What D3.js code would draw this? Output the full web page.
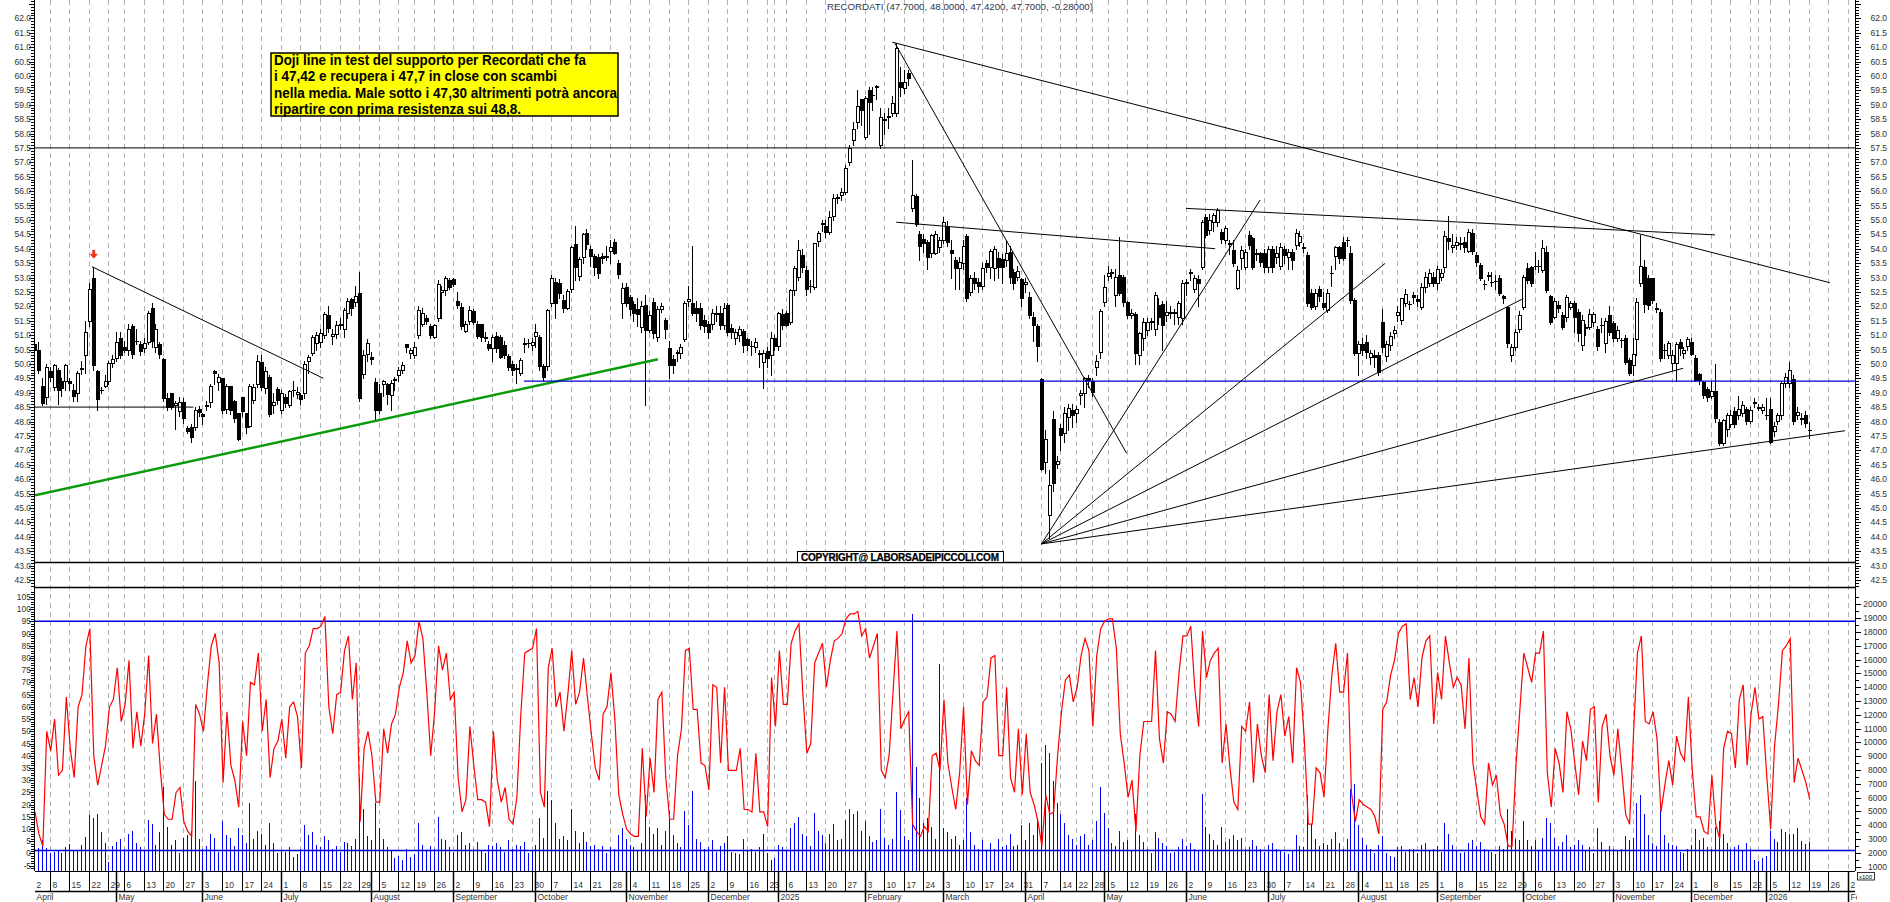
<!DOCTYPE html>
<html><head><meta charset="utf-8">
<script src="https://cdn.jsdelivr.net/npm/d3@7"></script>
<style>
html,body{margin:0;padding:0;background:#fff;}
svg{display:block;}
text{font-family:"Liberation Sans",Arial,sans-serif;}
</style></head><body>
<svg id="c" width="1890" height="902"></svg>
<script>
// ---------------- DATA ----------------
const title = "RECORDATI (47.7000, 48.0000, 47.4200, 47.7000, -0.28000)";
const noteLines = [
  "Doji line in test del supporto per Recordati che fa",
  "i 47,42 e recupera i 47,7 in close con scambi",
  "nella media. Male sotto i 47,30 altrimenti potrà ancora",
  "ripartire con prima resistenza sui 48,8."
];
const copyright = "COPYRIGHT@ LABORSADEIPICCOLI.COM";
const startDate = "2024-04-02";
const holidays = ["2024-05-01","2024-08-15","2024-12-24","2024-12-25","2024-12-26","2024-12-31","2025-01-01",
  "2025-04-18","2025-04-21","2025-05-01","2025-08-15","2025-12-24","2025-12-25","2025-12-26","2025-12-31","2026-01-01"];
const monthNames = ["January","February","March","April","May","June","July","August","September","October","November","December"];
const priceTicks = d3.range(425, 625, 5).map(v => v / 10);
const oscTicks = d3.range(-5, 110, 5);
const volTicks = d3.range(1000, 21000, 1000);

const opens = [
50.70,50.48,49.23,48.86,49.77,49.20,49.80,49.40,49.40,49.42,49.10,48.98,49.84,50.30,51.50,52.97,49.77,49.08,49.25,49.42,
50.04,50.20,50.90,50.60,50.50,51.30,50.78,50.70,50.56,50.77,51.94,50.60,50.68,50.16,48.80,48.98,48.57,48.35,48.67,47.76,
47.82,47.82,48.43,48.26,48.55,48.69,49.74,49.38,49.50,48.45,49.23,48.72,48.30,48.84,48.28,47.86,48.75,49.30,50.05,49.18,
49.56,48.56,49.14,48.40,48.86,48.56,49.08,48.94,48.92,48.98,50.11,50.37,50.74,50.76,51.00,51.70,50.97,51.04,51.35,51.20,
51.76,52.25,52.16,52.45,49.65,50.34,50.25,49.38,48.98,49.30,49.30,48.92,49.44,49.60,49.79,50.69,50.37,50.30,51.00,51.40,
51.58,51.30,50.95,51.58,52.50,52.57,52.90,52.94,52.20,51.96,51.14,51.50,51.85,51.40,51.38,50.90,50.69,50.54,
50.98,50.95,50.65,50.27,50.00,49.84,49.67,50.70,50.72,50.66,50.97,50.93,49.93,49.93,52.10,52.83,52.80,52.22,51.93,52.60,
54.15,53.06,53.70,54.56,53.98,53.75,53.72,53.75,53.71,53.93,54.23,53.50,52.10,52.68,52.33,52.08,51.90,51.27,52.03,51.18,52.16,
50.92,51.90,51.52,50.54,50.16,50.38,50.37,50.85,52.19,52.10,51.95,51.95,51.52,51.40,51.40,51.75,51.76,51.35,52.03,51.23,
50.89,51.00,51.14,50.85,50.61,50.60,50.36,50.05,50.46,50.31,50.89,50.62,51.72,51.78,51.47,52.57,53.03,53.77,53.26,52.69,
52.66,54.28,54.87,54.79,54.59,55.13,55.76,55.87,55.98,57.02,57.77,58.41,59.19,57.89,59.51,59.32,59.62,57.60,58.48,58.59,
58.70,58.70,59.80,59.57,60.09,55.40,55.83,54.51,54.33,54.23,53.84,53.86,54.07,54.30,54.79,
53.96,53.60,53.32,53.49,54.44,52.51,52.97,52.86,52.71,53.49,53.38,53.32,53.67,53.63,53.60,53.90,53.20,53.03,52.94,52.78,
52.33,51.62,51.32,49.46,46.60,44.75,48.10,46.52,47.76,47.59,48.17,48.40,48.28,48.91,48.98,49.50,49.42,49.88,50.43,52.16,
53.05,53.16,52.39,53.09,53.03,52.16,51.70,51.73,50.31,50.89,51.18,51.46,51.20,52.05,52.08,51.70,51.77,51.81,51.64,51.58,
52.81,53.15,52.59,52.94,53.38,55.10,54.65,54.94,54.94,54.59,54.30,54.18,53.95,52.62,53.67,53.38,54.48,54.36,53.83,53.84,
53.86,53.38,54.00,53.72,53.40,54.00,53.72,53.90,54.13,54.24,54.04,53.78,52.45,52.01,52.59,52.10,51.87,53.14,53.75,54.05,
54.24,54.29,53.86,52.22,50.39,50.69,50.77,50.23,50.31,50.31,51.47,50.28,50.66,51.06,51.70,51.52,52.10,52.07,
52.39,52.27,51.99,52.68,52.80,53.03,52.80,53.03,53.38,54.36,54.07,54.13,54.15,54.24,53.93,54.56,53.78,53.43,52.76,53.05,
52.84,52.87,53.00,52.36,51.96,50.31,50.60,51.20,51.99,53.32,53.35,53.39,53.39,53.26,53.90,52.36,51.64,52.04,51.70,51.64,
51.99,52.10,51.81,50.66,51.23,51.29,51.47,51.20,51.34,50.71,51.70,51.41,50.89,50.82,50.89,50.14,49.96,50.85,52.80,53.35,
53.00,52.97,51.92,51.81,50.47,50.31,50.04,50.02,50.77,50.37,50.62,50.77,50.19,49.65,49.38,49.12,48.88,49.07,47.99,47.24,
47.73,47.93,48.38,48.22,48.28,48.42,48.03,48.64,48.48,48.40,48.21,48.42,47.68,48.03,48.22,49.32,49.35,49.46,48.22,
48.09,48.22,47.70];
const closes = [
50.50,49.79,48.63,49.90,49.56,49.97,49.10,49.15,49.95,49.35,48.90,49.70,49.86,51.10,52.60,49.96,48.77,49.10,49.42,50.04,
50.18,50.75,50.30,50.50,51.20,50.35,50.80,50.45,50.74,51.78,50.80,51.20,50.33,48.80,48.50,48.50,48.64,48.67,48.11,47.68,
47.45,48.40,48.32,48.20,48.57,49.23,49.68,49.54,48.40,49.23,48.40,48.11,47.40,48.38,47.82,49.24,49.20,50.10,49.20,49.74,
48.26,48.68,48.75,48.98,48.63,49.05,49.10,49.04,48.77,49.98,50.23,50.95,51.00,51.06,51.72,51.23,51.04,51.36,51.37,51.87,
52.20,51.93,52.36,48.80,50.30,50.74,50.16,48.40,48.40,49.42,48.95,49.33,49.46,49.79,49.95,50.58,50.48,50.60,51.87,51.78,
51.50,51.00,51.35,52.76,52.57,53.00,52.68,52.77,52.05,51.30,51.37,51.87,51.47,50.97,50.95,50.92,50.54,50.95,
50.54,50.25,50.30,49.90,49.80,49.86,50.14,50.72,50.74,50.77,51.10,49.93,49.56,51.87,53.00,52.10,52.45,51.93,52.53,54.07,
53.38,53.63,54.50,54.15,53.76,53.35,53.17,53.67,53.73,54.07,53.84,53.11,52.65,52.10,51.90,51.76,51.73,52.00,51.18,51.70,51.06,
51.90,52.02,51.20,49.96,49.96,50.40,50.60,52.10,52.24,51.76,51.76,51.35,51.32,51.12,51.78,51.77,51.35,51.93,51.12,51.12,
51.12,51.20,50.66,50.66,50.63,50.75,50.38,50.37,50.19,50.89,50.62,51.76,51.35,51.35,52.57,53.32,53.95,53.35,52.59,52.71,
54.19,54.53,54.89,54.59,55.11,55.75,55.78,55.98,56.79,57.48,58.14,58.95,58.80,59.24,59.10,59.34,59.64,58.58,58.50,58.61,
59.07,60.96,59.63,59.80,59.92,55.86,54.85,54.10,54.21,53.72,54.48,54.51,54.30,54.94,54.24,
53.84,53.32,53.55,54.10,52.28,52.97,52.80,52.71,53.32,53.38,53.93,54.00,53.38,53.38,53.86,53.03,52.80,53.24,52.28,52.86,
51.70,51.35,50.62,46.34,47.38,45.80,45.85,46.64,47.53,48.31,48.46,48.23,48.42,48.98,49.50,49.44,49.04,50.11,51.85,52.68,
53.15,53.18,53.03,52.47,52.16,51.70,51.78,50.37,51.08,51.47,51.47,51.48,52.39,51.64,51.35,51.81,51.79,51.76,52.10,52.80,
52.83,53.20,52.97,52.80,54.94,54.48,55.00,55.17,55.34,54.33,54.73,54.20,53.49,53.26,53.95,53.90,54.13,53.38,53.85,53.55,
53.38,54.00,53.38,53.84,54.05,53.78,53.90,53.61,54.53,54.44,54.06,52.10,51.99,52.45,52.36,51.99,52.45,53.16,54.05,53.67,
53.67,54.31,52.22,50.39,50.69,50.48,50.43,50.37,50.23,49.73,50.60,50.69,50.97,51.18,51.81,52.28,52.43,52.09,
52.33,52.20,52.68,53.03,53.15,52.80,53.28,53.15,54.44,54.27,54.13,54.24,54.21,54.07,54.59,53.93,53.55,53.00,52.78,53.07,
52.86,52.89,52.47,52.28,50.71,50.60,51.12,51.70,53.03,52.91,52.80,53.41,53.41,54.01,52.57,51.47,52.20,51.93,51.29,52.33,
52.12,51.64,51.06,51.52,51.29,51.73,51.75,50.62,51.36,51.50,51.12,50.89,51.18,50.84,50.08,49.70,50.34,52.16,53.40,52.08,
52.04,52.22,51.94,50.19,50.49,50.71,50.31,50.69,50.54,50.48,50.85,50.34,49.44,49.44,48.92,48.86,49.07,48.11,47.24,48.05,
48.22,48.22,47.93,48.42,48.57,48.03,48.40,48.66,48.50,48.51,48.23,47.30,47.84,48.22,49.32,49.53,49.79,48.03,48.34,
48.11,47.96,47.70];
const highs = [
50.9,50.75,49.5,50.0,49.9,50.0,49.85,49.5,50.0,49.5,49.3,49.75,50.1,51.5,52.8,53.35,49.8,49.2,49.6,50.1,
50.3,51.1,51.1,50.8,51.4,51.4,51.2,50.8,50.9,51.85,52.1,51.4,50.75,50.2,48.98,49.0,48.7,48.85,48.8,47.85,
47.9,48.5,48.55,48.3,48.7,49.3,49.8,49.65,49.5,49.3,49.25,48.75,48.3,48.85,48.3,49.3,49.3,50.3,50.3,49.9,
49.6,49.0,49.2,49.1,48.95,49.1,49.4,49.2,49.0,50.1,50.3,51.0,51.1,51.2,51.8,52.0,51.2,51.5,51.6,51.95,
52.3,52.3,52.7,53.2,50.5,50.85,50.4,49.5,49.3,49.45,49.35,49.45,49.55,49.9,50.05,50.7,50.55,50.75,52.0,51.95,
51.7,51.4,51.4,52.9,52.7,53.05,53.0,53.0,52.5,52.1,51.5,52.0,51.9,51.5,51.4,51.1,50.8,51.0,
51.1,51.0,50.8,50.35,50.1,50.0,50.2,50.9,50.85,50.9,51.4,51.0,50.0,51.9,53.1,53.0,52.95,52.4,52.6,54.1,
54.8,53.7,54.55,54.7,54.1,53.8,53.8,53.85,54.1,54.3,54.35,53.6,52.8,52.8,52.4,52.2,52.3,52.2,52.4,51.85,52.3,
52.0,52.1,51.6,50.8,50.3,50.5,50.7,52.2,52.7,54.1,52.2,52.1,51.7,51.5,51.9,52.0,52.0,52.1,52.1,51.4,
51.2,51.3,51.2,50.9,50.8,50.9,50.5,50.5,50.6,51.1,51.0,51.8,51.9,51.85,52.6,53.4,54.3,54.0,53.4,52.9,
54.2,54.6,55.0,55.0,55.3,55.9,55.9,56.1,56.9,57.6,58.4,59.5,59.2,59.3,59.6,59.6,59.7,58.9,58.7,58.9,
59.3,61.15,60.3,60.2,60.2,57.08,55.9,54.6,54.5,54.3,54.5,54.6,54.4,55.1,54.95,
54.3,53.7,53.7,54.3,54.5,53.1,53.2,53.0,53.5,53.6,54.0,54.1,53.9,53.8,54.3,54.1,53.3,53.4,53.0,53.0,
52.5,51.8,51.4,49.5,47.7,46.3,48.35,46.8,47.9,48.5,48.6,48.6,48.55,49.1,49.55,49.6,49.5,50.3,51.9,53.1,
53.4,53.3,53.3,54.4,53.1,52.2,51.9,51.8,51.1,51.6,51.6,51.6,52.5,52.3,52.2,52.2,52.0,51.9,52.2,52.9,
52.95,53.3,53.1,53.1,55.0,55.2,55.2,55.25,55.4,54.7,54.8,54.3,54.3,53.4,54.1,54.0,54.6,54.4,54.0,53.9,
54.0,54.1,54.1,54.1,54.2,54.1,54.0,54.0,54.7,54.6,54.2,53.9,52.6,52.6,52.7,52.5,52.6,53.4,54.1,54.1,
54.4,54.4,54.1,52.3,50.8,50.9,51.0,50.5,50.5,50.4,51.9,50.8,51.1,51.3,52.0,52.3,52.6,52.2,
52.5,52.4,52.8,53.2,53.3,53.2,53.4,53.3,54.6,55.13,54.5,54.4,54.4,54.4,54.7,54.7,53.9,53.5,52.9,53.2,
53.2,53.1,53.1,52.4,52.0,50.7,51.2,51.85,53.1,53.5,53.4,53.9,53.6,54.3,54.1,52.4,52.3,52.2,51.8,52.4,
52.2,52.2,51.9,51.7,51.4,51.9,51.8,51.3,51.6,51.6,52.0,51.5,51.3,50.9,51.0,50.2,50.9,52.3,54.47,53.6,
53.1,53.0,52.1,51.9,50.7,50.8,50.5,50.75,50.85,50.6,50.95,50.9,50.3,49.7,49.4,49.2,49.4,50.0,48.1,48.1,
48.3,48.4,48.5,48.9,48.7,48.5,48.5,48.8,48.6,48.6,48.8,48.8,48.0,48.3,49.4,49.7,50.05,49.6,48.5,
48.3,48.35,48.0];
const lows = [
50.35,49.7,48.57,48.6,49.4,49.1,48.6,48.9,49.1,49.1,48.7,48.7,49.65,49.7,51.3,49.8,48.4,49.0,49.2,49.3,
49.9,50.1,50.2,50.4,50.3,50.2,50.7,50.3,50.4,50.7,50.6,50.4,50.2,48.7,48.4,48.45,47.75,48.2,47.95,47.6,
47.3,47.7,48.2,47.9,48.4,48.5,49.3,49.1,48.3,48.3,48.25,48.0,47.35,48.2,47.6,47.8,48.65,49.2,49.1,49.0,
48.2,48.3,48.6,48.3,48.5,48.5,48.9,48.8,48.6,48.8,49.7,50.3,50.5,50.6,50.9,51.1,50.7,50.9,51.2,50.95,
51.6,51.7,52.0,48.7,49.5,50.1,50.0,48.05,48.3,48.9,48.6,48.4,49.1,49.4,49.7,50.4,50.2,50.2,50.9,51.3,
51.4,50.9,50.9,51.5,51.6,52.4,52.6,52.7,51.95,51.2,51.1,51.4,51.4,50.9,50.8,50.8,50.5,50.1,
50.4,50.2,50.2,49.8,49.6,49.32,49.6,50.4,50.6,50.5,50.6,49.8,49.4,49.8,52.0,51.6,52.3,51.8,51.9,52.5,
52.9,52.9,53.5,54.0,53.4,53.1,53.0,53.5,53.6,53.5,53.8,53.0,51.6,52.0,51.7,51.5,51.3,51.1,48.57,51.1,50.9,
50.8,51.8,50.9,49.5,49.7,50.1,50.2,50.8,52.0,51.7,51.5,51.2,51.1,50.9,51.2,51.5,51.2,51.2,51.0,50.9,
50.7,50.8,50.4,50.5,50.3,50.4,49.9,49.15,49.9,49.6,50.5,50.5,51.2,51.3,51.4,52.4,52.9,53.2,52.4,52.5,
52.6,54.1,54.6,54.4,54.5,55.0,55.6,55.7,55.9,56.9,57.6,58.2,58.3,57.8,58.0,58.8,59.2,57.5,58.0,58.2,
58.6,58.6,59.3,59.4,59.7,55.3,54.8,53.6,53.9,53.3,53.7,53.8,53.9,54.2,54.1,
53.0,52.6,52.6,53.3,52.2,52.4,52.6,52.5,52.6,53.2,53.0,52.9,53.0,52.8,53.4,52.8,52.6,52.9,52.0,52.5,
51.6,50.8,50.1,46.3,46.2,43.94,45.6,46.4,47.0,47.3,47.7,47.8,48.0,48.6,48.5,49.2,48.9,49.6,50.2,52.0,
52.9,53.0,52.0,52.4,52.0,51.6,51.6,50.0,50.0,50.5,51.0,51.2,51.0,51.4,50.5,51.5,51.6,51.4,51.4,51.4,
52.4,52.9,52.5,52.0,53.3,54.4,54.5,54.6,54.8,54.2,54.2,53.8,53.4,52.6,53.3,53.3,54.0,53.3,53.6,53.4,
53.2,53.2,53.2,53.5,53.3,53.5,53.3,53.3,54.0,54.1,53.9,52.0,51.9,51.9,52.2,51.9,51.8,52.7,53.3,53.5,
53.6,54.1,52.1,50.3,49.6,50.3,50.2,50.0,49.9,49.6,50.4,50.1,50.5,50.9,51.5,51.4,52.0,51.9,
52.1,52.0,51.9,52.5,52.7,52.7,52.6,52.9,53.2,54.0,53.9,54.0,54.0,53.9,53.9,53.8,53.4,52.9,52.6,52.9,
52.7,52.6,52.4,52.1,50.6,50.1,50.5,51.1,51.9,52.8,52.7,53.3,53.2,53.2,52.5,51.4,51.6,51.8,51.2,51.5,
51.9,51.1,50.8,50.5,51.0,51.2,51.3,50.5,51.1,50.4,51.0,50.8,50.8,50.6,50.0,49.6,49.6,50.3,52.7,51.8,
51.9,52.1,51.8,50.1,50.2,50.2,49.8,49.4,50.3,50.2,50.5,50.3,49.4,49.3,48.8,48.7,48.8,48.0,47.2,47.2,
47.5,47.8,47.8,48.1,48.2,47.9,47.95,48.5,48.4,48.3,48.1,47.25,47.5,47.9,48.1,49.2,49.2,47.9,48.1,
47.9,47.8,47.42];
// red oscillator (left scale)
const osc = [
17,8,3,50,42,55,32,34,64,43, 31,60,65,85,92,40,28,36,44,60, 63,76,54,61,79,43,58,44,57,81, 45,57,34,16,14,14,25,27,13,9,
7,61,57,50,69,85,90,78,29,58, 36,30,19,54,40,70,69,82,50,63, 31,43,46,55,39,60,62,56,35,82, 85,92,92,93,97,60,49,65,66,83,
89,63,78,13,43,50,40,21,21,51, 41,53,57,68,74,87,78,81,95,88, 66,40,58,85,75,82,63,66,31,17, 22,52,36,22,22,21,11,50,30,21,
27,14,12,23,57,82,83,84,92,25, 19,76,84,60,66,50,65,83,61,66, 80,64,49,35,30,57,60,74,55,24, 16,10,8,7,7,43,15,39,25,63,
66,31,14,14,40,51,83,84,59,59, 37,36,26,69,68,37,68,34,34,34, 43,18,18,17,41,17,17,11,72,52, 83,61,61,86,91,94,65,41,45,78,
82,86,68,79,87,88,90,96,98,98, 99,89,92,80,85,90,34,31,40,66, 91,51,55,58,12,9,7,11,9,40, 41,34,63,37,27,18,33,60,20,42,
38,36,62,64,80,81,40,40,68,31, 25,51,24,49,25,20,13,3,24,16, 17,40,58,71,73,62,68,81,88,83, 52,81,92,95,96,96,84,49,37,23,
30,9,40,54,54,54,83,47,37,58, 57,54,74,89,89,93,68,52,91,72, 79,82,84,37,53,35,21,18,52,50, 62,29,53,40,33,65,38,58,65,48,
56,37,76,70,46,12,12,35,33,23, 51,73,86,66,66,82,25,13,22,20, 19,18,15,8,59,62,73,79,90,93, 94,63,72,60,80,87,89,53,74,63,
89,78,68,72,69,51,80,37,26,15, 12,37,28,32,16,12,3,3,36,59, 82,76,70,82,82,91,33,19,43,37, 25,58,51,37,24,46,38,59,60,21,
52,57,40,32,51,34,16,12,49,82, 89,54,53,58,47,17,28,38,28,48, 41,38,64,34,15,15,9,8,32,12, 6,43,50,49,35,63,69,36,57,68,
55,56,32,10,44,61,83,85,88,29, 39,34,29,22];
// volume (x100, right scale)
const vol = [
2450,2380,2900,2330,1970,2040,2210,2020,2400,2640, 2210,2210,2600,3170,4740,4500,4810,3540,2690,1360,
2500,2810,3000,2300,3400,3600,2700,2400,2200,4400, 4100,2600,3500,6800,3900,2600,2900,2000,3100,3300,
3600,7200,3000,2300,2500,3400,3100,2100,4300,3300, 3100,2500,3800,3300,2700,5600,3000,3600,3400,2600,
4200,2700,2000,2200,2100,2400,1700,1900,2300,4000, 3300,3500,2600,2400,3200,2900,2300,2500,2100,2800,
2700,2500,3000,7400,5200,3200,2900,5600,3800,3000, 2400,2200,1600,1800,1500,2300,1700,1900,4200,2600,
2200,2500,2300,4600,3000,2900,2400,2100,3300,3500, 2600,2700,2300,2800,2200,2000,2600,2500,2700,2400,
2100,2900,2300,2600,2500,2800,2000,2200,2600,4500, 3100,6500,5800,4200,3000,3200,2900,5200,3600,2700,
3500,2800,2500,2600,2300,2500,2000,2400,2300,3300, 3800,3000,2600,2400,2200,2700,6200,3900,3400,3800,
2600,3600,5000,3300,2700,2400,5000,4000,6500,3000, 2800,2300,2400,2900,2100,2500,2700,3200,2100,2000,
1900,3000,2200,2300,2100,2400,3400,2000,1500,1600, 2600,2400,2200,3800,4200,4600,3400,3200,2500,4900,
3600,3300,2700,3400,4100,2900,3000,4400,5200,4800, 5000,3600,4300,3200,2800,2900,5200,3100,2600,3000,
6400,5100,3200,2900,19300,8200,6000,4200,4500,3900, 3000,15700,3800,3500,3000,3200,2600,2900,6000,3500,
2600,2300,2900,2200,2700,2300,3000,2400,2600,3400, 2500,2600,4000,2900,4200,3300,4500,8500,9800,9200,
7200,5600,4800,4200,3300,3000,2600,3200,3400,2600, 2900,4300,6800,4900,3800,2700,2500,3600,2800,2900,
2200,4800,3300,2800,2300,2000,3500,3100,2700,2500, 2000,2100,2400,3000,2500,2700,2300,2200,6300,3900,
3400,2900,2600,3900,2800,3000,3300,2900,3100,2300, 2400,2900,2500,2300,2100,2600,2700,2300,2200,2100,
1900,2200,3300,2500,2400,6200,4100,3000,2500,2700, 2600,3000,3500,2700,2300,3000,6600,7000,4000,3100,
2600,2300,2000,2600,3200,2000,1800,1700,2400,2500, 2100,2300,2300,2000,2600,2700,2200,2300,2500,2100,
4200,3400,2600,2200,2000,2100,2700,2900,2500,2800, 2300,2200,2100,1900,2500,2300,5200,3600,3000,2900,
4300,2900,2500,2900,2200,3100,4500,4200,3100,2500, 2800,3300,2400,2600,2900,2600,2200,2400,2000,3800,
2800,2200,2500,2300,2200,2300,3200,2900,3100,5600, 6200,4800,3300,2700,2500,5100,3300,2700,2600,2500,
2100,2000,2300,2600,3700,2900,3100,2400,2300,3900, 4300,3400,2700,2300,2400,2600,2200,2700,2300,1500,
1400,1600,1800,3600,3000,2800,3700,3530,3370,3370, 3800,2880,2640,2790];

// drawn studies: [idx1, price1, idx2, price2]
const blackLines = [
  [0,57.5,464.5,57.5],[0,48.5,40.4,48.5],[14.55,53.375,73.6,49.5],
  [218.8,61.17,458.1,52.82],[219.5,61.13,278.6,46.9],[219.8,54.92,301.2,54.0],[293.8,55.40,428.8,54.48],
  [256.9,43.75,312.7,55.69],[256.9,43.75,344.6,53.49],[256.9,43.75,379.9,52.27],[256.9,43.75,420.7,49.85],[256.9,43.75,462.0,47.68]
];
const greenLine = [0,45.44,159.0,50.16];
const blueLine = [124.8,49.4,464.5,49.4];
const arrowMark = [15,53.67];

// ---------------- LAYOUT ----------------
const L = 35, R = 1855;
const svg = d3.select('#c');
const x = d3.scaleLinear().domain([0,463]).range([35,1849]);
const py = d3.scaleLinear().domain([43,62]).range([565.5,18.3]);
const oy = d3.scaleLinear().domain([-5,95]).range([865.7,621.3]);
const vy = d3.scaleLinear().domain([1000,20000]).range([866.7,604.3]);
const AX_Y = 871, ROW_Y = 891.5;

const hol = new Set(holidays);
const dates = [];
{ let t = Date.parse(startDate + "T00:00:00Z");
  while (dates.length < 470) { const d = new Date(t); const wd = d.getUTCDay(); const s = d.toISOString().slice(0,10);
    if (wd !== 0 && wd !== 6 && !hol.has(s)) dates.push(d); t += 86400000; } }
const wk = d => Math.floor((d.getTime()/86400000 + 3) / 7);
const weekStarts = [], monthStarts = [];
dates.forEach((d,i) => {
  if (x(i) > R) return;
  if (i === 0 || wk(d) !== wk(dates[i-1])) weekStarts.push(i);
  if (i === 0 || d.getUTCMonth() !== dates[i-1].getUTCMonth()) monthStarts.push(i);
});

const defs = svg.append('defs');
defs.append('clipPath').attr('id','cp').append('rect').attr('x',L).attr('y',0).attr('width',R-L).attr('height',562);
defs.append('clipPath').attr('id','cl').append('rect').attr('x',L).attr('y',588).attr('width',R-L).attr('height',AX_Y-588);
defs.append('clipPath').attr('id','cx').append('rect').attr('x',L).attr('y',AX_Y).attr('width',1857-L).attr('height',40);

svg.append('g').selectAll('line').data(weekStarts.filter(i => i > 0)).join('line')
  .attr('x1', i => Math.round(x(i)) - 0.5).attr('x2', i => Math.round(x(i)) - 0.5)
  .attr('y1', 0).attr('y2', AX_Y).attr('stroke', '#b2b2b2').attr('stroke-width', 1).attr('stroke-dasharray', '5,4');

// ---------------- PRICE PANEL ----------------
const gp = svg.append('g').attr('clip-path','url(#cp)');
const cg = gp.append('g').attr('shape-rendering','crispEdges');
opens.forEach((o,i) => {
  const c = closes[i], bx = Math.round(x(i));
  const yh = Math.round(py(highs[i])), yl = Math.round(py(lows[i]));
  cg.append('rect').attr('x', bx-1).attr('y', yh).attr('width',1).attr('height', Math.max(1, yl-yh+1)).attr('fill','#000');
  const yt = Math.round(py(Math.max(o,c))), yb = Math.round(py(Math.min(o,c)));
  const h = Math.max(1, yb - yt + 1);
  cg.append('rect').attr('x', bx-2).attr('y', yt).attr('width',4).attr('height',h).attr('fill','#000');
  if (c > o && h > 2) cg.append('rect').attr('x', bx-1).attr('y', yt+1).attr('width',2).attr('height',h-2).attr('fill','#fff');
});
const lg = gp.append('g');
lg.append('line').attr('x1',x(greenLine[0])).attr('y1',py(greenLine[1])).attr('x2',x(greenLine[2])).attr('y2',py(greenLine[3]))
  .attr('stroke','#0a9a0a').attr('stroke-width',2.4);
lg.append('line').attr('x1',x(blueLine[0])).attr('y1',py(blueLine[1])).attr('x2',x(blueLine[2])).attr('y2',py(blueLine[3]))
  .attr('stroke','#0000d0').attr('stroke-width',1.3);
lg.selectAll('line.b').data(blackLines).join('line').attr('class','b')
  .attr('x1', d => x(d[0])).attr('y1', d => py(d[1])).attr('x2', d => x(d[2])).attr('y2', d => py(d[3]))
  .attr('stroke','#000').attr('stroke-width',1);
{ const ax = x(arrowMark[0]), ay = py(arrowMark[1]);
  lg.append('path').attr('d', `M${ax-1},${ay-8} L${ax+1},${ay-8} L${ax+1},${ay-4} L${ax+3.5},${ay-4} L${ax},${ay} L${ax-3.5},${ay-4} L${ax-1},${ay-4} Z`)
    .attr('fill','#ff3000').attr('stroke','#d01000').attr('stroke-width',0.6); }

svg.append('rect').attr('x',271).attr('y',53).attr('width',347).attr('height',63).attr('fill','#ffff00').attr('stroke','#000').attr('stroke-width',1.5);
const noteW = [312, 283, 343, 247];
noteLines.forEach((s,k) => {
  svg.append('text').attr('x',274).attr('y',65 + k*16.3).attr('font-size','14px').attr('font-weight','bold')
    .attr('font-family','"Liberation Sans Narrow","Arial Narrow","Liberation Sans",sans-serif')
    .attr('textLength',noteW[k]).attr('lengthAdjust','spacingAndGlyphs').attr('fill','#000').text(s);
});
svg.append('text').attr('x',827).attr('y',10).attr('font-size','9px').attr('fill','#2d3550')
  .attr('textLength',266).attr('lengthAdjust','spacingAndGlyphs').text(title);

svg.append('line').attr('x1',L).attr('x2',R).attr('y1',562.5).attr('y2',562.5).attr('stroke','#000').attr('stroke-width',1.5);
svg.append('line').attr('x1',L).attr('x2',R).attr('y1',587.5).attr('y2',587.5).attr('stroke','#000').attr('stroke-width',1.5);
svg.append('rect').attr('x',797.5).attr('y',551.5).attr('width',206).attr('height',11).attr('fill','#fff').attr('stroke','#000').attr('stroke-width',1);
svg.append('text').attr('x',900).attr('y',561).attr('text-anchor','middle').attr('font-size','10px').attr('font-weight','bold')
  .attr('textLength',198).attr('lengthAdjust','spacing').attr('fill','#000').attr('stroke','#000').attr('stroke-width',0.25).text(copyright);

// ---------------- LOWER PANEL ----------------
const gl = svg.append('g').attr('clip-path','url(#cl)');
gl.append('g').attr('shape-rendering','crispEdges').selectAll('rect').data(vol).join('rect')
  .attr('x', (d,i) => Math.round(x(i)) - 1).attr('width',1)
  .attr('y', d => vy(d)).attr('height', d => AX_Y - vy(d)).attr('fill','#0000ff');
gl.append('line').attr('x1',L).attr('x2',R).attr('y1',oy(95)).attr('y2',oy(95)).attr('stroke','#0000e0').attr('stroke-width',1.5);
gl.append('line').attr('x1',L).attr('x2',R).attr('y1',850.5).attr('y2',850.5).attr('stroke','#0000e0').attr('stroke-width',1.5);
gl.append('path').datum(osc).attr('fill','none').attr('stroke','#ff0000').attr('stroke-width',1.2)
  .attr('d', d3.line().x((d,i) => x(i)).y(d => oy(d)));

// ---------------- AXES ----------------
const ax = svg.append('g').attr('shape-rendering','crispEdges');
ax.append('line').attr('x1',L-0.5).attr('x2',L-0.5).attr('y1',0).attr('y2',AX_Y).attr('stroke','#000');
ax.append('line').attr('x1',R+0.5).attr('x2',R+0.5).attr('y1',0).attr('y2',AX_Y).attr('stroke','#000');
for (let k = 422; k <= 627; k++) {
  const y = Math.round(py(k/10)) + 0.5; if (y < 0 || y > 587) continue;
  const len = (k % 5 === 0) ? 5 : 3;
  ax.append('line').attr('x1',L-1-len).attr('x2',L-1).attr('y1',y).attr('y2',y).attr('stroke','#000');
  ax.append('line').attr('x1',R+1).attr('x2',R+1+len).attr('y1',y).attr('y2',y).attr('stroke','#000');
}
for (let k = -6; k <= 107; k++) {
  const y = Math.round(oy(k)) + 0.5; if (y < 589 || y > AX_Y) continue;
  const len = (k % 5 === 0) ? 5 : 3;
  ax.append('line').attr('x1',L-1-len).attr('x2',L-1).attr('y1',y).attr('y2',y).attr('stroke','#000');
}
for (let v = 500; v <= 20500; v += 500) {
  const y = Math.round(vy(v)) + 0.5; if (y < 589 || y > AX_Y) continue;
  const len = (v % 1000 === 0) ? 5 : 3;
  ax.append('line').attr('x1',R+1).attr('x2',R+1+len).attr('y1',y).attr('y2',y).attr('stroke','#000');
}
const lab = svg.append('g').attr('font-size','8.5px').attr('fill','#333');
priceTicks.forEach(v => {
  lab.append('text').attr('x',31).attr('y',py(v)+3).attr('text-anchor','end').text(v.toFixed(1));
  lab.append('text').attr('x',1887).attr('y',py(v)+3).attr('text-anchor','end').text(v.toFixed(1));
});
oscTicks.forEach(v => lab.append('text').attr('x',31).attr('y',oy(v)+3).attr('text-anchor','end').text(v));
volTicks.forEach(v => lab.append('text').attr('x',1887).attr('y',vy(v)+3).attr('text-anchor','end').text(v));
svg.append('rect').attr('x',1857.5).attr('y',872.5).attr('width',17).attr('height',7.5).attr('fill','#fff').attr('stroke','#000').attr('stroke-width',0.8);
svg.append('text').attr('x',1859).attr('y',879).attr('font-size','6px').attr('fill','#000').text('x100');

const dax = svg.append('g').attr('clip-path','url(#cx)');
dax.append('line').attr('x1',L).attr('x2',R).attr('y1',AX_Y).attr('y2',AX_Y).attr('stroke','#000').attr('stroke-width',2);
dax.append('line').attr('x1',L).attr('x2',R).attr('y1',ROW_Y).attr('y2',ROW_Y).attr('stroke','#000').attr('stroke-width',1.5);
let lastEnd = -1e9;
weekStarts.forEach(i => {
  const px = Math.round(x(i)) - 0.5;
  if (i > 0) dax.append('line').attr('x1',px).attr('x2',px).attr('y1',AX_Y).attr('y2',ROW_Y).attr('stroke','#000');
  const s = String(dates[i].getUTCDate());
  const w = s.length * 4.8;
  if (px + 2 > lastEnd + 1) { dax.append('text').attr('x',px+2).attr('y',888).attr('font-size','8.5px').attr('fill','#333').text(s); lastEnd = px + 2 + w; }
});
monthStarts.forEach(i => {
  const px = Math.round(x(i)) - 0.5, m = dates[i].getUTCMonth();
  if (i > 0) dax.append('line').attr('x1',px).attr('x2',px).attr('y1',AX_Y).attr('y2',902).attr('stroke','#000').attr('stroke-width',1.5);
  dax.append('text').attr('x',px+2).attr('y',900).attr('font-size','8.5px').attr('fill','#333')
    .text(m === 0 ? String(dates[i].getUTCFullYear()) : monthNames[m]);
});
</script>
</body></html>
